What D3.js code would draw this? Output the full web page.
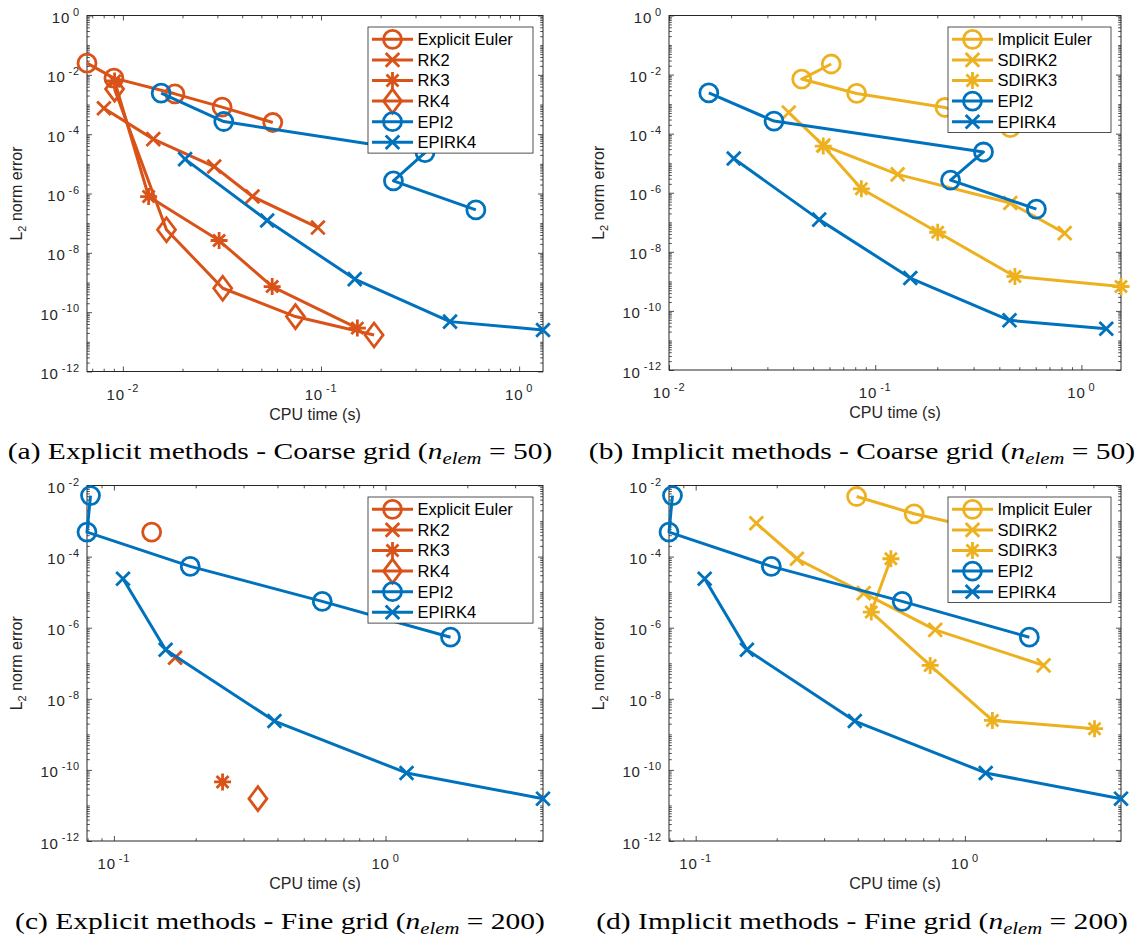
<!DOCTYPE html>
<html><head><meta charset="utf-8">
<script src="https://cdn.jsdelivr.net/npm/d3@7"></script>
<style>body{margin:0;background:#fff}svg{display:block}</style>
</head><body>
<svg id="c" width="1137" height="942"></svg>
<script>
// ---------- DATA ----------
// Coarse grid (n_elem = 50)
const eeCoarseX   = [0.00659, 0.00901, 0.0183, 0.0317, 0.0571];
const eeCoarseY   = [0.0247, 0.00773, 0.00229, 8.13e-4, 2.47e-4];
const rk2CoarseX  = [0.00802, 0.01424, 0.0289, 0.0451, 0.0965];
const rk2CoarseY  = [7.5e-4, 6.8e-5, 8.1e-6, 7.9e-7, 7.1e-8];
const rk3CoarseX  = [0.00908, 0.01349, 0.0306, 0.0567, 0.1526];
const rk3CoarseY  = [6.2e-3, 7.9e-7, 2.6e-8, 7.3e-10, 2.9e-11];
const rk4CoarseX  = [0.00908, 0.0166, 0.0319, 0.0743, 0.1853];
const rk4CoarseY  = [3.3e-3, 6.0e-8, 6.4e-10, 7.1e-11, 1.7e-11];
const epi2CoarseX = [0.0156, 0.0323, 0.335, 0.232, 0.605];
const epi2CoarseY = [2.4e-3, 2.67e-4, 2.4e-5, 2.67e-6, 2.8e-7];
const epirk4CoarseX = [0.0206, 0.0535, 0.148, 0.448, 1.32];
const epirk4CoarseY = [1.44e-5, 1.23e-7, 1.3e-9, 4.8e-11, 2.5e-11];
const ieCoarseX   = [0.0612, 0.0440, 0.0813, 0.218, 0.452];
const ieCoarseY   = [0.0228, 0.00705, 0.0023, 7.7e-4, 1.6e-4];
const sdirk2CoarseX = [0.0381, 0.056, 0.1285, 0.452, 0.830];
const sdirk2CoarseY = [5.2e-4, 4.0e-5, 4.2e-6, 4.5e-7, 4.3e-8];
const sdirk3CoarseX = [0.056, 0.0857, 0.201, 0.476, 1.556];
const sdirk3CoarseY = [3.8e-5, 1.36e-6, 4.6e-8, 1.47e-9, 6.7e-10];
// Fine grid (n_elem = 200)
const eeFineX  = [0.1377];  const eeFineY  = [4.9e-4];
const rk2FineX = [0.168];   const rk2FineY = [1.43e-7];
const rk3FineX = [0.2512];  const rk3FineY = [4.6e-11];
const rk4FineX = [0.339];   const rk4FineY = [1.55e-11];
const epi2FineX = [0.082, 0.0796, 0.191, 0.585, 1.735];
const epi2FineY = [5.2e-3, 4.9e-4, 5.3e-5, 5.5e-6, 5.4e-7];
const epirk4FineX = [0.108, 0.155, 0.39, 1.195, 3.8];
const epirk4FineY = [2.38e-5, 2.4e-7, 2.37e-9, 8.2e-11, 1.55e-11];
const ieFineX = [0.396, 0.648, 1.2, 2.1];
const ieFineY = [4.9e-3, 1.6e-3, 5.5e-4, 1.8e-4];
const sdirk2FineX = [0.168, 0.2377, 0.421, 0.776, 1.96];
const sdirk2FineY = [8.7e-4, 8.7e-5, 9.4e-6, 8.7e-7, 8.7e-8];
const sdirk3FineX = [0.531, 0.449, 0.743, 1.265, 3.03];
const sdirk3FineY = [8.7e-5, 2.75e-6, 8.7e-8, 2.47e-9, 1.44e-9];

// tick label exponents
const yTickExpCoarse = [0, -2, -4, -6, -8, -10, -12];
const yTickExpFine   = [-2, -4, -6, -8, -10, -12];
const xTickExpCoarse = [-2, -1, 0];
const xTickExpFine   = [-1, 0];
const yDomainCoarse = [1e-12, 1];
const yDomainFine   = [1e-12, 1e-2];
const xMinImplicitCoarse = 0.01;

const captions = [
  ["(a) Explicit methods - Coarse grid (", "50)"],
  ["(b) Implicit methods - Coarse grid (", "50)"],
  ["(c) Explicit methods - Fine grid (", "200)"],
  ["(d) Implicit methods - Fine grid (", "200)"]
];

// ---------- STYLE ----------
const ORANGE = "#D95319", BLUE = "#0072BD", YELLOW = "#EDB120", AX = "#262626";
const SANS = "'Liberation Sans', Arial, Helvetica, sans-serif";
const SERIF = "'Liberation Serif', 'Times New Roman', serif";

function S(name, color, marker, xs, ys){ return {name, color, marker, pts: xs.map((v,i)=>[v, ys[i]])}; }

const explicitCoarse = [
  S("Explicit Euler", ORANGE, "o", eeCoarseX, eeCoarseY),
  S("RK2", ORANGE, "x", rk2CoarseX, rk2CoarseY),
  S("RK3", ORANGE, "*", rk3CoarseX, rk3CoarseY),
  S("RK4", ORANGE, "d", rk4CoarseX, rk4CoarseY),
  S("EPI2", BLUE, "o", epi2CoarseX, epi2CoarseY),
  S("EPIRK4", BLUE, "x", epirk4CoarseX, epirk4CoarseY)
];
const implicitCoarse = [
  S("Implicit Euler", YELLOW, "o", ieCoarseX, ieCoarseY),
  S("SDIRK2", YELLOW, "x", sdirk2CoarseX, sdirk2CoarseY),
  S("SDIRK3", YELLOW, "*", sdirk3CoarseX, sdirk3CoarseY),
  S("EPI2", BLUE, "o", epi2CoarseX, epi2CoarseY),
  S("EPIRK4", BLUE, "x", epirk4CoarseX, epirk4CoarseY)
];
const explicitFine = [
  S("Explicit Euler", ORANGE, "o", eeFineX, eeFineY),
  S("RK2", ORANGE, "x", rk2FineX, rk2FineY),
  S("RK3", ORANGE, "*", rk3FineX, rk3FineY),
  S("RK4", ORANGE, "d", rk4FineX, rk4FineY),
  S("EPI2", BLUE, "o", epi2FineX, epi2FineY),
  S("EPIRK4", BLUE, "x", epirk4FineX, epirk4FineY)
];
const implicitFine = [
  S("Implicit Euler", YELLOW, "o", ieFineX, ieFineY),
  S("SDIRK2", YELLOW, "x", sdirk2FineX, sdirk2FineY),
  S("SDIRK3", YELLOW, "*", sdirk3FineX, sdirk3FineY),
  S("EPI2", BLUE, "o", epi2FineX, epi2FineY),
  S("EPIRK4", BLUE, "x", epirk4FineX, epirk4FineY)
];
function ext(series){ return d3.extent(series.flatMap(s=>s.pts.map(p=>p[0]))); }

const panels = [
  {x0:87,  x1:543,  y0:15.5,  y1:371.5, series:explicitCoarse, xDomain:ext(explicitCoarse), yDomain:yDomainCoarse, yExp:yTickExpCoarse, xExp:xTickExpCoarse, legW:165, cap:captions[0], capX:280, capY:459},
  {x0:669, x1:1121, y0:15.5,  y1:370,   series:implicitCoarse, xDomain:[xMinImplicitCoarse, ext(implicitCoarse)[1]], yDomain:yDomainCoarse, yExp:yTickExpCoarse, xExp:xTickExpCoarse, legW:163, cap:captions[1], capX:862, capY:459},
  {x0:87,  x1:543,  y0:485.5, y1:841,   series:explicitFine, xDomain:ext(explicitFine), yDomain:yDomainFine, yExp:yTickExpFine, xExp:xTickExpFine, legW:165, cap:captions[2], capX:280, capY:929},
  {x0:669, x1:1121, y0:485.5, y1:841,   series:implicitFine, xDomain:ext(implicitFine), yDomain:yDomainFine, yExp:yTickExpFine, xExp:xTickExpFine, legW:163, cap:captions[3], capX:862, capY:929}
];

const svg = d3.select("#c");

function drawMarker(g, type, cx, cy, color){
  const sw = 2.8;
  if (type === "o") {
    g.append("circle").attr("cx",cx).attr("cy",cy).attr("r",9)
      .attr("fill","none").attr("stroke",color).attr("stroke-width",sw);
  } else if (type === "x") {
    const a = 6.8;
    g.append("path").attr("d",`M${cx-a},${cy-a}L${cx+a},${cy+a}M${cx-a},${cy+a}L${cx+a},${cy-a}`)
      .attr("stroke",color).attr("stroke-width",sw).attr("fill","none");
  } else if (type === "*") {
    const a = 6, b = 8.5;
    g.append("path").attr("d",`M${cx-a},${cy-a}L${cx+a},${cy+a}M${cx-a},${cy+a}L${cx+a},${cy-a}M${cx-b},${cy}L${cx+b},${cy}M${cx},${cy-b}L${cx},${cy+b}`)
      .attr("stroke",color).attr("stroke-width",sw).attr("fill","none");
  } else if (type === "d") {
    const w = 9, h = 12;
    g.append("path").attr("d",`M${cx},${cy-h}L${cx+w},${cy}L${cx},${cy+h}L${cx-w},${cy}Z`)
      .attr("stroke",color).attr("stroke-width",sw).attr("fill","none").attr("stroke-linejoin","miter");
  }
}

function logMinor(domain, majors){
  const lo = Math.floor(Math.log10(domain[0])), hi = Math.ceil(Math.log10(domain[1]));
  const out = [];
  for (let d = lo; d <= hi; d++) for (let k = 1; k <= 9; k++) {
    const v = k * Math.pow(10, d);
    if (v >= domain[0]*0.9999 && v <= domain[1]*1.0001 && !majors.some(m => Math.abs(m - v)/v < 1e-6)) out.push(v);
  }
  return out;
}

function tickLabel(g, xx, yy, anchor, e){
  const expStr = e === 0 ? "0" : "-" + Math.abs(e);
  const t = g.append("text").attr("x", xx).attr("y", yy).attr("text-anchor", anchor)
    .attr("font-family", SANS).attr("font-size", 15).attr("letter-spacing", 0.8).attr("fill", AX);
  t.append("tspan").text("10");
  t.append("tspan").attr("font-size", 11).attr("dy", -7.5).attr("dx", 3).attr("letter-spacing", 0.8).text(expStr);
}

function drawPanel(p){
  const g = svg.append("g");
  const x = d3.scaleLog().domain(p.xDomain).range([p.x0, p.x1]);
  const y = d3.scaleLog().domain(p.yDomain).range([p.y1, p.y0]);
  const xMaj = p.xExp.map(e => Math.pow(10, e)).filter(v => v >= p.xDomain[0]*0.9999 && v <= p.xDomain[1]);
  const yMaj = p.yExp.map(e => Math.pow(10, e));
  const xMin = logMinor(p.xDomain, xMaj), yMin = logMinor(p.yDomain, yMaj);

  const addAxis = (axisFn, scale, vals, len, tx, ty) => {
    const a = axisFn(scale).tickValues(vals).tickSizeInner(-len).tickSizeOuter(0).tickFormat("");
    const ag = g.append("g").attr("transform", `translate(${tx},${ty})`).call(a);
    ag.select(".domain").remove();
    ag.selectAll("line").attr("stroke", AX).attr("stroke-width", 0.8);
  };
  addAxis(d3.axisBottom, x, xMaj, 5, 0, p.y1);
  addAxis(d3.axisBottom, x, xMin, 2.8, 0, p.y1);
  addAxis(d3.axisTop, x, xMaj, 5, 0, p.y0);
  addAxis(d3.axisTop, x, xMin, 2.8, 0, p.y0);
  addAxis(d3.axisLeft, y, yMaj, 5, p.x0, 0);
  addAxis(d3.axisLeft, y, yMin, 2.8, p.x0, 0);
  addAxis(d3.axisRight, y, yMaj, 5, p.x1, 0);
  addAxis(d3.axisRight, y, yMin, 2.8, p.x1, 0);

  g.append("rect").attr("x", p.x0).attr("y", p.y0).attr("width", p.x1 - p.x0).attr("height", p.y1 - p.y0)
    .attr("fill", "none").attr("stroke", AX).attr("stroke-width", 1);

  // x tick labels
  p.xExp.forEach(e => {
    const v = Math.pow(10, e);
    if (v < p.xDomain[0]*0.9999 || v > p.xDomain[1]) return;
    tickLabel(g, x(v), p.y1 + 28, "middle", e);
  });
  // y tick labels
  p.yExp.forEach(e => tickLabel(g, p.x0 - 7, y(Math.pow(10, e)) + 7.5, "end", e));

  // axis labels
  g.append("text").attr("x", (p.x0 + p.x1) / 2).attr("y", p.y1 + 48).attr("text-anchor", "middle")
    .attr("font-family", SANS).attr("font-size", 16).attr("fill", AX).text("CPU time (s)");
  const yl = g.append("text").attr("transform", `translate(${p.x0 - 65},${(p.y0 + p.y1) / 2}) rotate(-90)`)
    .attr("text-anchor", "middle").attr("font-family", SANS).attr("font-size", 16).attr("fill", AX);
  yl.append("tspan").text("L");
  yl.append("tspan").attr("font-size", 11).attr("dy", 4).text("2");
  yl.append("tspan").attr("dy", -4).text(" norm error");

  // data
  const line = d3.line().x(d => x(d[0])).y(d => y(d[1]));
  p.series.forEach(s => {
    const sg = g.append("g");
    sg.append("path").attr("d", line(s.pts)).attr("fill", "none").attr("stroke", s.color)
      .attr("stroke-width", 3).attr("stroke-linejoin", "round");
    s.pts.forEach(d => drawMarker(sg, s.marker, x(d[0]), y(d[1]), s.color));
  });

  // legend
  const n = p.series.length, rowH = 20.6;
  const lw = p.legW, lh = n * rowH + 2.5;
  const lx = p.x1 - 10 - lw, ly = p.y0 + 11.5;
  const lg = g.append("g");
  lg.append("rect").attr("x", lx).attr("y", ly).attr("width", lw).attr("height", lh)
    .attr("fill", "#fff").attr("stroke", AX).attr("stroke-width", 0.8);
  p.series.forEach((s, i) => {
    const cy = ly + 12.3 + i * rowH;
    lg.append("line").attr("x1", lx + 4).attr("x2", lx + 45).attr("y1", cy).attr("y2", cy)
      .attr("stroke", s.color).attr("stroke-width", 3);
    drawMarker(lg, s.marker, lx + 24.5, cy, s.color);
    lg.append("text").attr("x", lx + 49.5).attr("y", cy + 5.8).attr("font-family", SANS)
      .attr("font-size", 16.5).attr("fill", "#000").text(s.name);
  });
}
panels.forEach(drawPanel);

// captions (serif, stretched horizontally to the reference width)
const CAP_FS = 22.5, CAP_W = 545;
function caption(p){
  const fs = CAP_FS;
  const g = svg.append("g");
  const t = g.append("text").attr("x", 0).attr("y", 0).attr("text-anchor", "middle")
    .attr("font-family", SERIF).attr("font-size", fs).attr("fill", "#000");
  t.append("tspan").text(p.cap[0]);
  t.append("tspan").attr("font-style", "italic").text("n");
  t.append("tspan").attr("font-style", "italic").attr("font-size", fs * 0.7).attr("dy", fs * 0.22).text("elem");
  t.append("tspan").attr("dy", -fs * 0.22).text(" = " + p.cap[1]);
  return {g, w: t.node().getComputedTextLength()};
}
const capEls = panels.map(p => caption(p));
const sx = CAP_W / capEls[0].w;
capEls.forEach((c, i) => c.g.attr("transform", `translate(${panels[i].capX},${panels[i].capY}) scale(${sx},1)`));
</script>
</body></html>
